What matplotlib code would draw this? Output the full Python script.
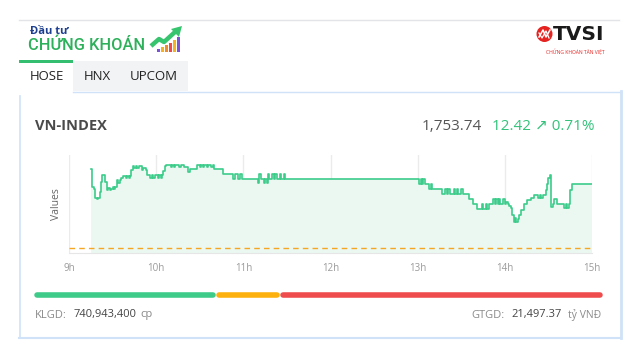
import matplotlib
matplotlib.use("Agg")
import matplotlib.pyplot as plt
from matplotlib.patches import Rectangle, Circle, Polygon

# ---------------- data ----------------
times = ["9:15", "9:16", "9:17", "9:18", "9:19", "9:20", "9:21", "9:22", "9:23", "9:25",
         "9:26", "9:27", "9:28", "9:29", "9:30", "9:31", "9:32", "9:33", "9:34", "9:35",
         "9:36", "9:37", "9:39", "9:40", "9:41", "9:42", "9:43", "9:44", "9:45", "9:46",
         "9:47", "9:48", "9:50", "9:51", "9:53", "9:54", "9:56", "9:57", "9:58", "9:59",
         "10:01", "10:02", "10:03", "10:04", "10:05", "10:06", "10:07", "10:10", "10:11", "10:12",
         "10:13", "10:16", "10:17", "10:19", "10:22", "10:23", "10:28", "10:30", "10:31", "10:32",
         "10:33", "10:35", "10:36", "10:38", "10:39", "10:40", "10:46", "10:53", "10:54", "10:56",
         "10:58", "10:59", "11:10", "11:11", "11:12", "11:14", "11:15", "11:16", "11:17", "11:18",
         "11:20", "11:21", "11:22", "11:23", "11:25", "11:26", "11:28", "11:29", "13:01", "13:02",
         "13:03", "13:04", "13:05", "13:08", "13:09", "13:10", "13:17", "13:19", "13:20", "13:21",
         "13:22", "13:25", "13:26", "13:27", "13:28", "13:30", "13:31", "13:35", "13:38", "13:41",
         "13:44", "13:45", "13:47", "13:48", "13:49", "13:52", "13:53", "13:54", "13:55", "13:56",
         "13:57", "13:59", "14:00", "14:01", "14:02", "14:03", "14:04", "14:05", "14:06", "14:07",
         "14:08", "14:09", "14:10", "14:11", "14:13", "14:15", "14:18", "14:20", "14:23", "14:24",
         "14:25", "14:26", "14:28", "14:29", "14:30", "14:31", "14:32", "14:33", "14:34", "14:36",
         "14:41", "14:42", "14:43", "14:44", "14:45", "14:46", "15:00"]
values = [1756.65, 1753.16, 1752.77, 1751.02, 1750.83, 1751.02, 1752.19, 1754.13, 1755.49, 1754.13,
          1752.58, 1752.96, 1752.58, 1752.77, 1753.16, 1752.77, 1753.16, 1754.52, 1753.93, 1754.52,
          1754.90, 1755.29, 1754.90, 1755.29, 1754.90, 1755.29, 1756.46, 1757.23, 1756.85, 1757.23,
          1756.85, 1757.23, 1756.46, 1756.85, 1756.46, 1755.49, 1754.90, 1755.49, 1754.90, 1755.49,
          1754.90, 1755.49, 1754.90, 1755.49, 1756.26, 1757.23, 1757.43, 1757.04, 1757.43, 1757.04,
          1757.43, 1757.04, 1757.43, 1757.04, 1756.07, 1756.65, 1757.43, 1757.04, 1757.43, 1757.04,
          1757.43, 1757.04, 1757.43, 1757.04, 1757.43, 1756.65, 1755.68, 1754.71, 1755.68, 1754.71,
          1755.68, 1754.71, 1753.93, 1755.68, 1754.71, 1753.93, 1754.71, 1753.93, 1755.68, 1754.71,
          1755.68, 1754.71, 1755.68, 1754.71, 1755.68, 1754.71, 1755.68, 1754.71, 1753.74, 1754.71,
          1753.74, 1754.71, 1753.74, 1752.77, 1753.74, 1752.77, 1751.80, 1752.77, 1751.80, 1752.77,
          1751.80, 1752.77, 1751.80, 1752.77, 1751.80, 1752.77, 1751.80, 1750.83, 1749.86, 1748.89,
          1749.86, 1748.89, 1749.86, 1748.89, 1749.86, 1750.83, 1749.86, 1750.83, 1749.86, 1750.83,
          1749.86, 1750.83, 1749.86, 1750.25, 1749.86, 1749.47, 1749.09, 1747.73, 1746.37, 1747.14,
          1746.37, 1746.95, 1747.73, 1748.70, 1749.86, 1750.64, 1751.02, 1751.61, 1751.02, 1751.61,
          1751.02, 1751.61, 1752.58, 1753.74, 1754.90, 1755.49, 1749.28, 1749.86, 1750.83, 1749.86,
          1749.09, 1749.86, 1749.09, 1749.86, 1752.58, 1753.74, 1753.74]
reference_value = 1741.32
hour_ticks = [9, 10, 11, 12, 13, 14, 15]
hour_labels = ["9h", "10h", "11h", "12h", "13h", "14h", "15h"]
index_name = "VN-INDEX"
index_value = "1,753.74"
index_change = "12.42 \u2197 0.71%"
breadth_parts = [180, 62, 321]   # advancers / unchanged / decliners bar lengths
breadth_colors = ["#3ecb8a", "#fdb10e", "#ef4d4d"]
tabs = ["HOSE", "HNX", "UPCOM"]
volume_text = "740,943,400"
value_text = "21,497.37"

hours = [int(t.split(":")[0]) + int(t.split(":")[1]) / 60 for t in times]

# ---------------- figure ----------------
W, H = 639, 361
fig = plt.figure(figsize=(W / 100, H / 100), dpi=100)
fig.patch.set_facecolor("white")
FONT = ["Open Sans", "DejaVu Sans"]

bg = fig.add_axes([0, 0, 1, 1])
bg.set_xlim(0, W)
bg.set_ylim(H, 0)
bg.axis("off")

# top separator
bg.plot([19, 619], [19.5, 19.5], color="#e2e4e8", lw=1)

# logo "Dau tu CHUNG KHOAN"
bg.text(29.5, 31, "Đầu tư", fontsize=8, fontweight="bold", color="#1d3f8f",
        family=FONT, va="center", ha="left")
bg.text(27.5, 45, "CHỨNG KHOÁN", fontsize=11.8, fontweight="medium", color="#2cb05a",
        family=["Roboto", "DejaVu Sans"], va="center", ha="left")
# logo icon bars
bar_cols = ["#7a52d8", "#f5b324", "#f08a2a", "#ee4a4a", "#f5b324", "#7a52d8"]
bar_h = [3, 5, 7, 9, 12, 15]
for i, (c, h) in enumerate(zip(bar_cols, bar_h)):
    bg.add_patch(Rectangle((157 + i * 4, 52 - h), 3, h, fc=c, ec="none"))
bg.plot([151, 159, 164, 175], [46, 39, 42, 32], color="#37c46f", lw=3.2,
        solid_capstyle="butt")
bg.add_patch(Polygon([[171, 29], [182, 26], [179, 37]], closed=True, fc="#37c46f", ec="none"))

# TVSI logo
bg.add_patch(Circle((544.5, 34), 8, fc="#e52421", ec="none"))
bg.plot([539, 543, 546, 550], [37, 30, 37, 30], color="white", lw=1.1)
bg.plot([539, 542, 546, 549], [33, 38, 31, 38], color="white", lw=0.9)
bg.text(553, 34.5, "TVSI", fontsize=14.5, fontweight="bold", color="#1a1a1a",
        family=["DejaVu Sans"], va="center", ha="left")
bg.text(575.5, 52.5, "CHỨNG KHOÁN TÂN VIỆT", fontsize=3.6, color="#e52421",
        family=FONT, va="center", ha="center")

# tabs
bg.add_patch(Rectangle((73, 61), 115, 30, fc="#f2f3f5", ec="none"))
bg.add_patch(Rectangle((19, 60), 54, 3, fc="#34be70", ec="none"))
tab_x = [46.5, 97, 154]
for name, x in zip(tabs, tab_x):
    bg.text(x, 77, name, fontsize=9.5, color="#222222", family=FONT,
            va="center", ha="center")

# panel border
pc = "#cfe2f8"
bg.plot([73, 620.5], [91.5, 91.5], color=pc, lw=1)
bg.plot([19.5, 19.5], [96, 338], color=pc, lw=1.2)
bg.plot([620.5, 620.5], [91, 338], color=pc, lw=2)
bg.plot([19, 621], [338, 338], color=pc, lw=1.5)

# header of chart
bg.text(35, 126, index_name, fontsize=10.5, fontweight="bold", color="#4a4a4a",
        family=FONT, va="center", ha="left")
bg.text(482, 126, index_value, fontsize=11, color="#555555", family=FONT,
        va="center", ha="right")
bg.text(594, 126, index_change, fontsize=11, color="#33c27a", family=FONT,
        va="center", ha="right")

# breadth bar
x0 = 35
for length, col in zip(breadth_parts, breadth_colors):
    bg.plot([x0 + 2, x0 + length - 2], [295, 295], color=col, lw=4,
            solid_capstyle="round")
    x0 += length + 2

# footer texts
fs = 8
bg.text(35, 315, "KLGD:", fontsize=fs, color="#8a8a8a", family=FONT, va="center", ha="left")
bg.text(74, 315, volume_text, fontsize=fs, color="#444444", family=FONT, va="center", ha="left")
bg.text(140, 315, "cp", fontsize=fs, color="#8a8a8a", family=FONT, va="center", ha="left")
bg.text(505, 315, "GTGD:", fontsize=fs, color="#8a8a8a", family=FONT, va="center", ha="right")
bg.text(562, 315, value_text, fontsize=fs, color="#444444", family=FONT, va="center", ha="right")
bg.text(601, 315, "tỷ VNĐ", fontsize=7.5, color="#8a8a8a", family=FONT, va="center", ha="right")

# ---------------- chart ----------------
left, right, top, bottom = 69, 592, 155, 253
ax = fig.add_axes([left / W, 1 - bottom / H, (right - left) / W, (bottom - top) / H])
ax.set_facecolor("white")
ax.fill_between(hours, values, 1700, step="post", color="#eaf8f1", lw=0)
ax.plot(hours, values, drawstyle="steps-post", color="#3ccc8a", lw=1.2)
ax.axhline(reference_value, color="#f5a623", lw=1, ls=(0, (4, 3)))
ax.set_xlim(9, 15)
ax.set_ylim(1740.35, 1759.37)
ax.set_xticks(hour_ticks)
ax.set_xticklabels(hour_labels, family=FONT, fontsize=7, color="#9a9a9a")
ax.tick_params(axis="x", length=0, pad=7)
ax.set_yticks([])
ax.grid(axis="x", color="#ebebeb", lw=1)
ax.set_axisbelow(True)
for s in ["top", "left", "right"]:
    ax.spines[s].set_visible(False)
ax.spines["bottom"].set_color("#e6e6e6")
ax.set_ylabel("Values", family=FONT, fontsize=7.5, color="#666666", labelpad=5)

fig.savefig("out.png", dpi=100)
